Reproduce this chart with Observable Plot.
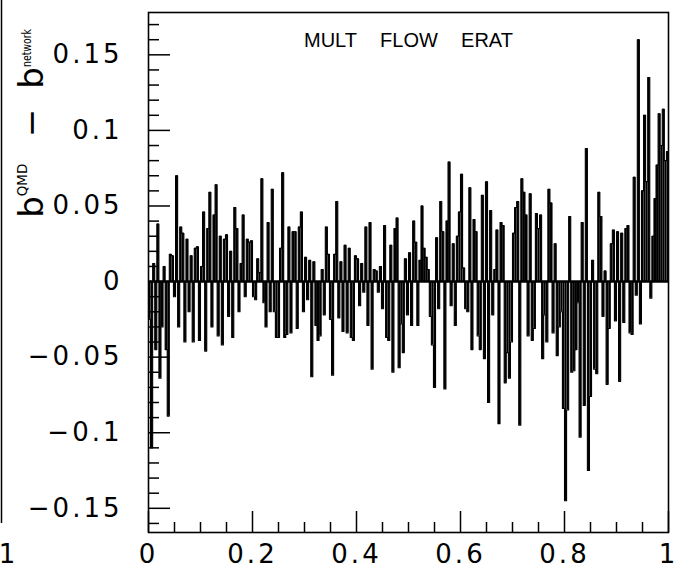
<!DOCTYPE html>
<html><head><meta charset="utf-8">
<script src="https://cdn.jsdelivr.net/npm/d3@7"></script>
<script src="https://cdn.jsdelivr.net/npm/@observablehq/plot@0.6"></script>
<style>html,body{margin:0;padding:0;background:#fff;}</style>
</head><body><div id="chart"></div>
<script>
// histogram bin width along x (0..1)
const binWidth = 0.004;
// b^QMD - b^network per bin
const values = [
 -0.025,-0.11,0.012,-0.045,0.038,-0.064,-0.03,0.01,-0.045,-0.089,
 0.018,0.017,-0.01,0.07,-0.03,0.036,0.032,-0.04,0.028,-0.02,
 0.017,-0.04,0.022,0.023,-0.039,0.01,0.046,-0.046,0.035,0.059,
 -0.03,0.044,0.064,-0.036,0.03,-0.042,0.028,0.031,-0.023,0.02,
 -0.037,0.049,0.035,-0.02,0.012,0.044,-0.01,0.028,0.026,0.027,
 -0.01,-0.012,0.015,0.006,0.068,-0.014,-0.03,0.039,-0.02,0.061,
 -0.02,-0.037,-0.037,0.022,0.072,-0.037,-0.035,0.036,-0.034,0.033,
 0.033,-0.031,0.036,0.046,-0.02,0.016,-0.012,0.014,-0.063,0.013,
 -0.029,-0.039,-0.036,0.008,-0.022,0.036,0.018,-0.025,-0.062,0.018,
 0.053,-0.024,0.013,-0.033,0.024,-0.034,0.022,-0.037,-0.039,0.017,
 0.015,-0.016,0.012,-0.007,0.036,-0.029,0.039,-0.058,0.008,0.007,
 -0.007,0.01,-0.018,0.037,-0.037,-0.039,0.024,-0.06,0.035,0.042,
 -0.057,-0.028,-0.047,0.015,-0.022,0.019,-0.029,0.04,0.026,-0.029,
 0.014,0.05,0.022,0.016,0.008,-0.023,-0.042,-0.07,0.029,-0.018,
 0.053,0.033,-0.071,0.04,0.079,-0.016,0.025,-0.029,0.03,0.046,
 0.071,0.009,-0.018,-0.02,0.062,-0.045,0.041,0.033,-0.036,-0.045,
 0.057,-0.051,0.066,-0.08,0.047,-0.022,0.008,0.034,-0.094,0.039,
 0.037,-0.067,-0.047,-0.064,-0.04,0.032,0.049,0.053,-0.095,0.068,
 0.059,0.044,-0.036,0.058,-0.039,-0.031,0.045,0.035,0.044,-0.051,
 -0.022,-0.04,0.061,0.052,-0.034,0.025,-0.049,-0.03,-0.02,-0.084,
 -0.145,-0.085,0.043,-0.06,-0.059,-0.045,-0.014,-0.103,0.039,-0.082,
 0.088,-0.125,-0.076,0.014,-0.058,-0.061,0.059,0.043,-0.023,0.007,
 -0.068,-0.031,0.025,0.034,-0.026,0.033,-0.066,0.032,-0.027,0.035,
 0.037,-0.034,-0.035,0.069,-0.009,0.16,-0.028,0.06,0.11,0.066,
 0.135,-0.011,0.03,0.055,0.077,0.111,0.09,0.114,0.08,0.086
];
const xTicksMajor = [0, 0.2, 0.4, 0.6, 0.8, 1];
const xTicksMinor = [0.05,0.1,0.15,0.25,0.3,0.35,0.45,0.5,0.55,0.65,0.7,0.75,0.85,0.9,0.95];
const yTicksMajor = [-0.15,-0.1,-0.05,0,0.05,0.1,0.15];
const yTicksMinor = [-0.16,-0.14,-0.13,-0.12,-0.11,-0.09,-0.08,-0.07,-0.06,-0.04,-0.03,-0.02,-0.01,
  0.01,0.02,0.03,0.04,0.06,0.07,0.08,0.09,0.11,0.12,0.13,0.14,0.16,0.17];
const titleWords = ["MULT", "FLOW", "ERAT"];
const xDomain = [0, 1];
const yDomain = [-0.166, 0.178];

const bins = values.map((v, i) => ({x: (i + 0.5) * binWidth, v}));

const W = 678, H = 571, mL = 148, mR = 10, mT = 12, mB = 39;
const fw = W - mL - mR, fh = H - mT - mB;
const fmt = d => d === 0 ? "0" : String(d).replace("-", "\u2212");

const plot = Plot.plot({
  width: W, height: H,
  marginLeft: mL, marginRight: mR, marginTop: mT, marginBottom: mB,
  style: {fontFamily: "DejaVu Sans", background: "white", color: "black"},
  x: {domain: xDomain},
  y: {domain: yDomain},
  marks: [
    Plot.ruleX(bins, {x: "x", y1: 0, y2: "v", stroke: "black", strokeWidth: 2}),
    Plot.line(bins, {x: "x", y: "v", curve: "step", stroke: "black", strokeWidth: 1.1}),
    Plot.ruleY([0], {stroke: "black", strokeWidth: 2.5}),
    Plot.ruleX(xTicksMajor, {x: d => d, insetTop: fh - 21, strokeWidth: 1.5}),
    Plot.ruleX(xTicksMinor, {x: d => d, insetTop: fh - 10, strokeWidth: 1.5}),
    Plot.ruleY(yTicksMajor, {y: d => d, insetRight: fw - 22, strokeWidth: 1.5}),
    Plot.ruleY(yTicksMinor, {y: d => d, insetRight: fw - 11, strokeWidth: 1.5}),
    Plot.axisX(xTicksMajor, {tickSize: 0, tickPadding: 12, fontSize: 26, tickFormat: fmt, label: null}),
    Plot.axisY(yTicksMajor, {tickSize: 0, tickPadding: 26, fontSize: 26, tickFormat: fmt, label: null}),
    Plot.frame({stroke: "black", strokeWidth: 1.6}),
    Plot.text([titleWords[0]], {text: d => d, frameAnchor: "top", dx: -78, dy: 20, fontSize: 20, fontFamily: "Liberation Sans"}),
    Plot.text([titleWords[1]], {text: d => d, frameAnchor: "top", dx: 0.5, dy: 20, fontSize: 20, fontFamily: "Liberation Sans"}),
    Plot.text([titleWords[2]], {text: d => d, frameAnchor: "top", dx: 78.5, dy: 20, fontSize: 20, fontFamily: "Liberation Sans"})
  ]
});

const svg = d3.select(plot);
svg.selectAll('g[aria-label="x-axis tick label"] text, g[aria-label="y-axis tick label"] text')
  .attr("letter-spacing", "3px");

// rotated y-axis label: b^QMD − b^network
const lab = svg.append("g").attr("font-family", "DejaVu Sans").attr("fill", "black");
function rot(txt, x, y, size, len) {
  const t = lab.append("text").attr("transform", `translate(${x},${y}) rotate(-90)`)
    .attr("font-size", size).text(txt);
  if (len) t.attr("textLength", len).attr("lengthAdjust", "spacingAndGlyphs");
}
rot("b", 43, 207, 34);
rot("QMD", 27, 180, 13.5);
rot("\u2212", 43, 123, 34);
rot("b", 43, 78, 34);
rot("network", 31, 48, 13, 38);

// neighbouring panel remnants at the left edge
svg.append("line").attr("x1", 1.5).attr("x2", 1.5).attr("y1", 0).attr("y2", 523)
  .attr("stroke", "black").attr("stroke-width", 1.5);
svg.append("text").attr("x", 7).attr("y", 563).attr("text-anchor", "middle")
  .attr("font-family", "DejaVu Sans").attr("font-size", 26).text("1");

document.getElementById("chart").appendChild(plot);
</script>
</body></html>
